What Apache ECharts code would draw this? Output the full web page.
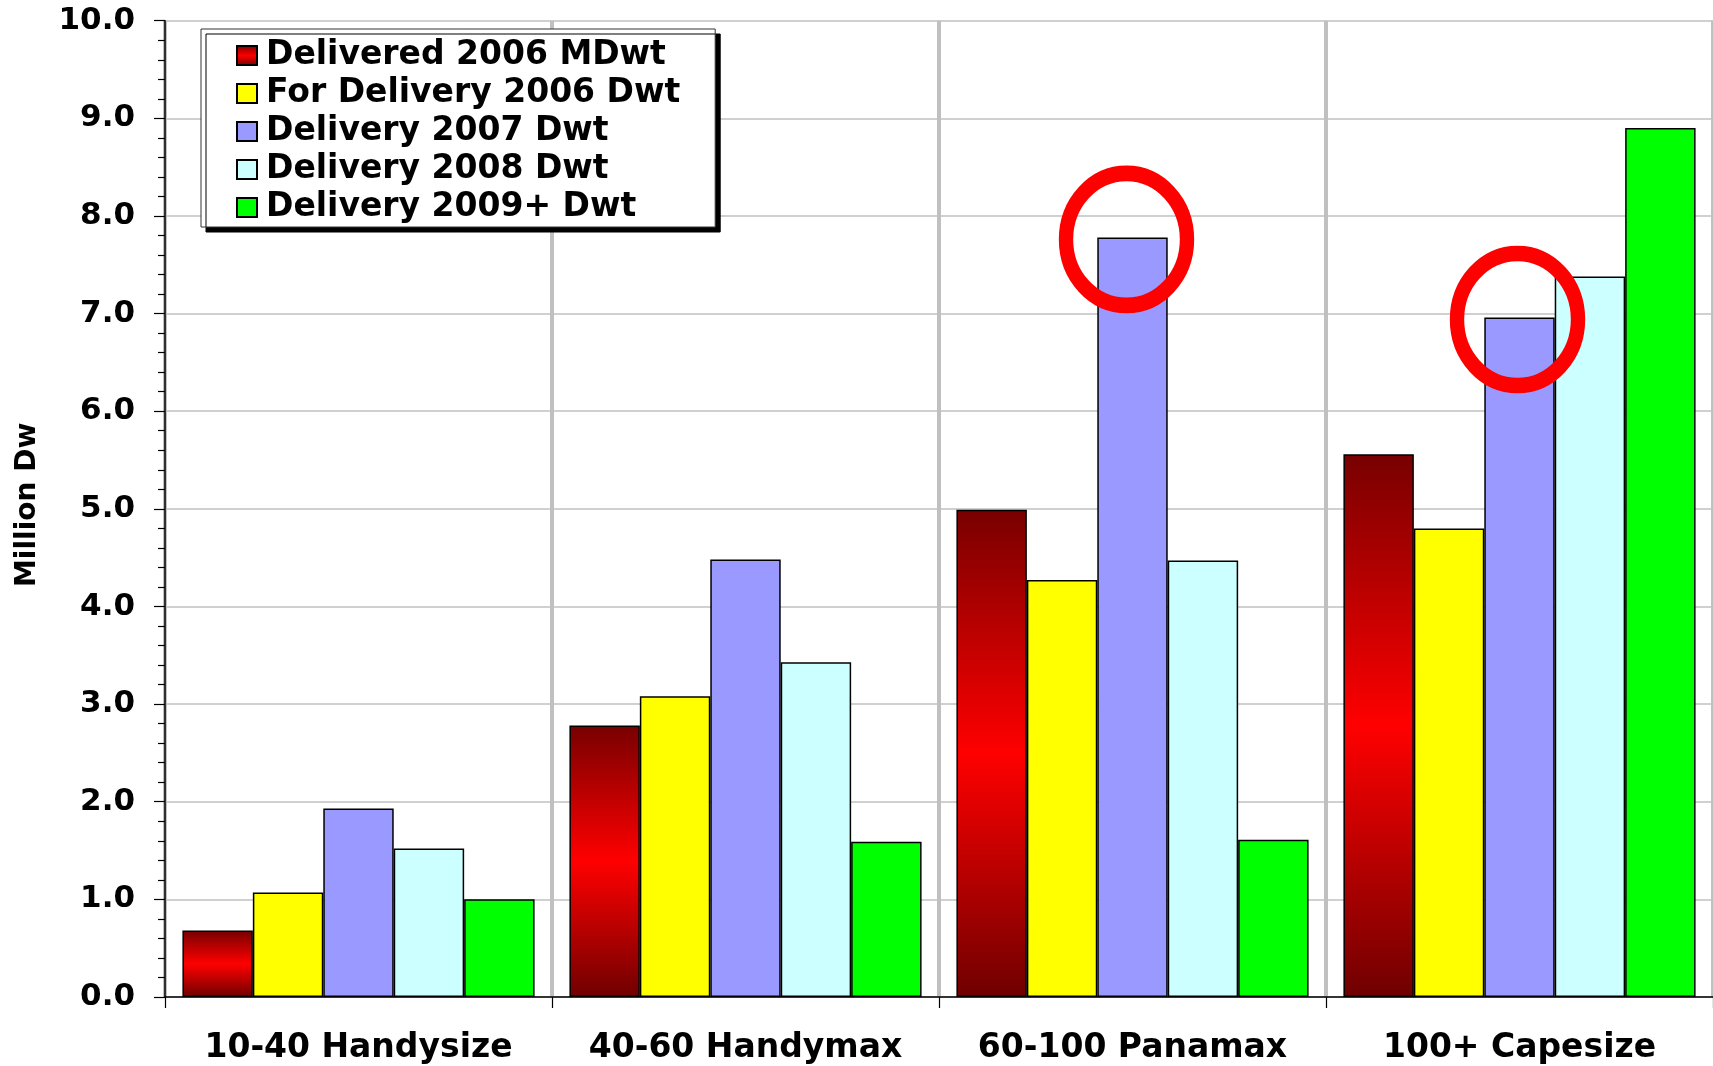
<!DOCTYPE html>
<html>
<head>
<meta charset="utf-8">
<title>Dry bulk orderbook by size</title>
<script src="https://cdn.jsdelivr.net/npm/echarts@6/dist/echarts.min.js"></script>
<style>
  html, body { margin: 0; padding: 0; background: #ffffff; }
  #chart { width: 1713px; height: 1066px; }
</style>
</head>
<body>
<div id="chart"></div>
<script>
// Ship size classes (thousand dwt) on the x axis
const categories = ['10-40 Handysize', '40-60 Handymax', '60-100 Panamax', '100+ Capesize'];

// Million dwt per size class
const delivered2006   = [0.68, 2.78, 4.99, 5.56];
const forDelivery2006 = [1.07, 3.08, 4.27, 4.80];
const delivery2007    = [1.93, 4.48, 7.78, 6.96];
const delivery2008    = [1.52, 3.43, 4.47, 7.38];
const delivery2009    = [1.00, 1.59, 1.61, 8.90];

const seriesNames = [
  'Delivered 2006 MDwt',
  'For Delivery 2006 Dwt',
  'Delivery 2007 Dwt',
  'Delivery 2008 Dwt',
  'Delivery 2009+ Dwt'
];

// Size classes highlighted with a ring on the 2007 bar
const highlighted = [2, 3];

const FONT = 'DejaVu Sans';

const redGradient = new echarts.graphic.LinearGradient(0, 0, 0, 1, [
  { offset: 0, color: '#780000' },
  { offset: 0.5, color: '#ff0000' },
  { offset: 1, color: '#700000' }
]);

const fills = [redGradient, '#ffff00', '#9999ff', '#ccffff', '#00ff00'];
const values = [delivered2006, forDelivery2006, delivery2007, delivery2008, delivery2009];

const series = values.map((arr, i) => ({
  name: seriesNames[i],
  type: 'bar',
  data: arr,
  barGap: '0%',
  barCategoryGap: '9%',
  itemStyle: { color: fills[i], borderColor: '#000000', borderWidth: 1.5 },
  emphasis: { disabled: true }
}));

series[2].markPoint = {
  symbol: 'circle',
  symbolSize: [121, 132],
  silent: true,
  z: 10,
  label: { show: false },
  itemStyle: { color: 'rgba(0,0,0,0)', borderColor: '#ff0000', borderWidth: 15 },
  data: highlighted.map((idx, k) => ({
    coord: [categories[idx], delivery2007[idx]],
    symbolOffset: [k === 0 ? -6 : -2, 2]
  }))
};

const chart = echarts.init(document.getElementById('chart'), null, { renderer: 'canvas' });

chart.setOption({
  animation: false,
  backgroundColor: '#ffffff',
  grid: { left: 165, right: 0, top: 20.7, bottom: 69, containLabel: false },
  legend: {
    orient: 'vertical',
    left: 201,
    top: 29,
    padding: [10, 35, 3, 35],
    itemGap: 5,
    itemWidth: 20,
    itemHeight: 19,
    icon: 'rect',
    backgroundColor: '#ffffff',
    borderColor: '#333333',
    borderWidth: 1,
    shadowColor: '#000000',
    shadowBlur: 0,
    shadowOffsetX: 5,
    shadowOffsetY: 5,
    selectedMode: false,
    data: seriesNames,
    textStyle: {
      fontFamily: FONT,
      fontWeight: 'bold',
      fontSize: 33,
      lineHeight: 32,
      color: '#000000',
      padding: [0, 0, 0, 4]
    }
  },
  xAxis: {
    type: 'category',
    data: categories,
    boundaryGap: true,
    axisLine: { show: true, lineStyle: { color: '#000000', width: 1.5 } },
    axisTick: { show: true, interval: 0, alignWithLabel: false, length: 11, lineStyle: { color: '#000000', width: 1.2 } },
    axisLabel: {
      interval: 0,
      margin: 35,
      fontFamily: FONT,
      fontWeight: 'bold',
      fontSize: 33,
      color: '#000000'
    },
    splitLine: { show: true, interval: 0, lineStyle: { color: '#c0c0c0', width: 4 } }
  },
  yAxis: {
    type: 'value',
    min: 0,
    max: 10,
    interval: 1,
    name: 'Million Dwt',
    nameLocation: 'middle',
    nameGap: 123,
    nameTruncate: { maxWidth: 168, ellipsis: '' },
    nameTextStyle: {
      fontFamily: FONT,
      fontWeight: 'bold',
      fontSize: 28,
      color: '#000000',
      padding: [0, 0, 0, 8]
    },
    axisLine: { show: true, lineStyle: { color: '#000000', width: 1.5 } },
    axisTick: { show: true, length: 11, lineStyle: { color: '#000000', width: 1.2 } },
    minorTick: { show: true, splitNumber: 5, length: 7, lineStyle: { color: '#000000', width: 1.2 } },
    axisLabel: {
      margin: 30,
      fontFamily: FONT,
      fontWeight: 'bold',
      fontSize: 31,
      color: '#000000',
      formatter: v => v.toFixed(1)
    },
    splitLine: { show: true, lineStyle: { color: '#c0c0c0', width: 1.5 } }
  },
  series: series
});
</script>
</body>
</html>
